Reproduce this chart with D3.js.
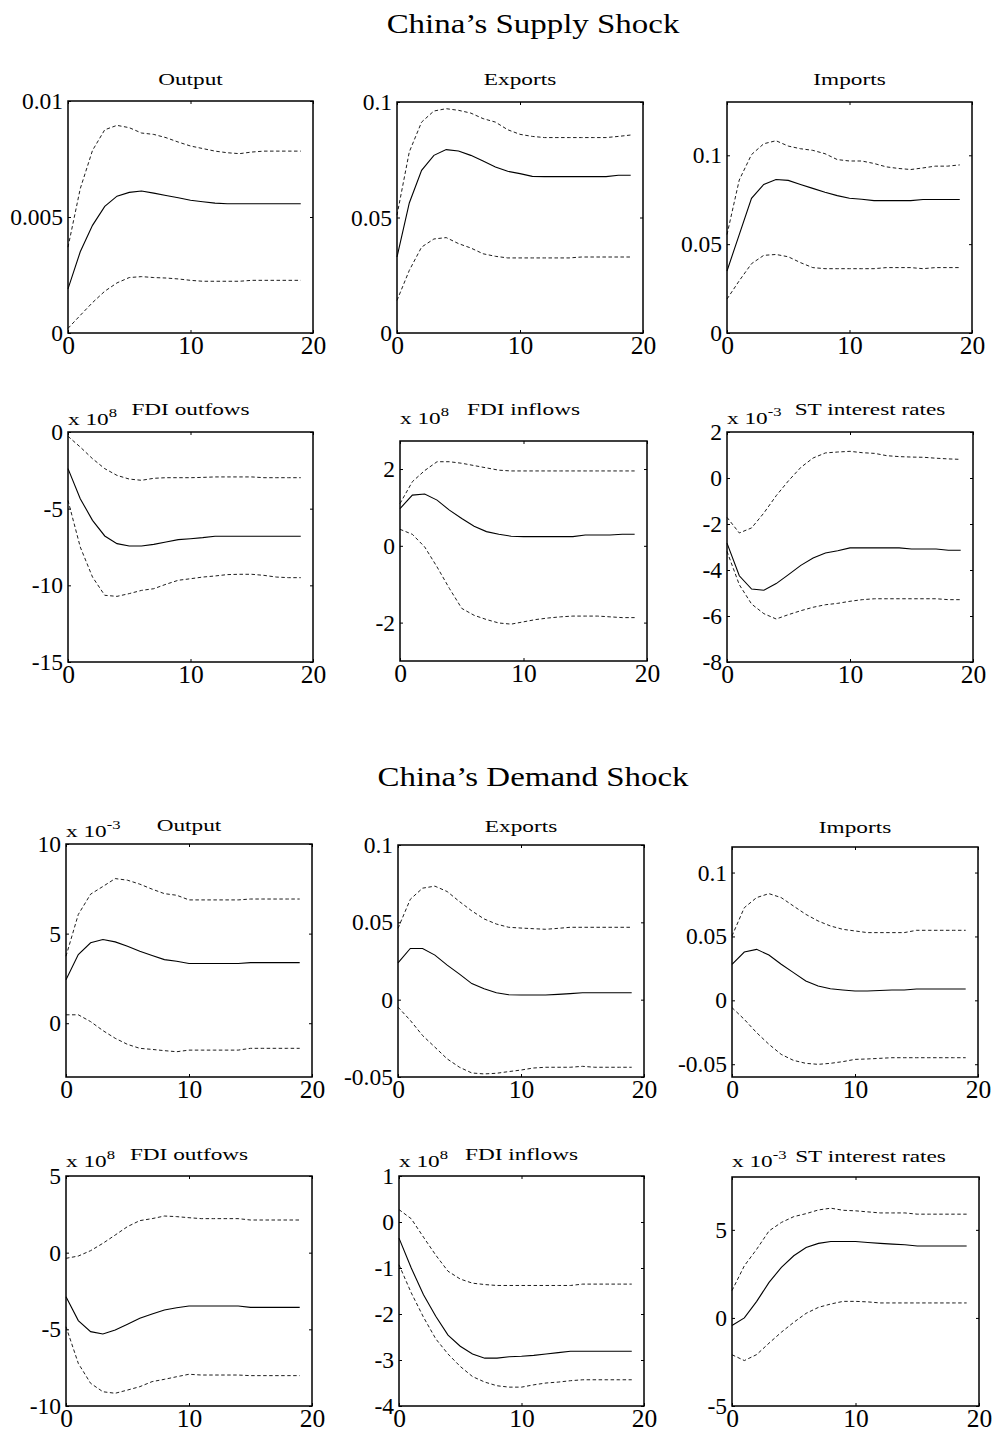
<!DOCTYPE html>
<html lang="en">
<head>
<meta charset="UTF-8">
<title>China's Supply and Demand Shocks</title>
<script src="https://d3js.org/d3.v7.min.js"></script>
<style>
  body { margin: 0; background: #fff; }
  svg { display: block; }
  text { font-family: "Liberation Serif", "Times New Roman", serif; fill: #000; }
  .tick text { font-size: 23.5px; }
  .xax .tick text { font-size: 25.5px; }
</style>
</head>
<body>
<div id="chart"></div>
<script>
// horizons 0..19
var periods = [0,1,2,3,4,5,6,7,8,9,10,11,12,13,14,15,16,17,18,19];

var blockTitles = ["China\u2019s Supply Shock", "China\u2019s Demand Shock"];
var panelTitles = ["Output", "Exports", "Imports", "FDI outfows", "FDI inflows", "ST interest rates"];
var xTicks = [0, 10, 20];

// ---- supply shock ----
var sOutMid = [0.0019,0.0035,0.00464,0.00546,0.0059,0.00606,0.00612,0.00603,0.00593,0.00583,0.00572,0.00566,0.0056,0.00557,0.00557,0.00557,0.00557,0.00557,0.00557,0.00557];
var sOutHi  = [0.0037,0.00622,0.00787,0.00876,0.00895,0.00885,0.00862,0.00856,0.00842,0.00823,0.00806,0.00795,0.00784,0.00777,0.00773,0.0078,0.00784,0.00784,0.00784,0.00784];
var sOutLo  = [0.0002,0.00076,0.00131,0.0018,0.00216,0.00239,0.00243,0.00239,0.00237,0.00233,0.00227,0.00223,0.00223,0.00223,0.00223,0.00227,0.00227,0.00227,0.00227,0.00227];

var sExpMid = [0.0329,0.0563,0.0704,0.0769,0.0794,0.0788,0.0769,0.0745,0.0719,0.070,0.069,0.0678,0.0677,0.0677,0.0677,0.0677,0.0677,0.0677,0.0683,0.0683];
var sExpHi  = [0.051,0.0784,0.0913,0.0961,0.0971,0.0964,0.0952,0.0928,0.0913,0.088,0.086,0.0851,0.0846,0.0846,0.0846,0.0846,0.0846,0.0846,0.0851,0.0857];
var sExpLo  = [0.0141,0.0271,0.0372,0.0407,0.0413,0.0387,0.0368,0.0343,0.0332,0.0325,0.0325,0.0325,0.0325,0.0325,0.0325,0.0329,0.0329,0.0329,0.0329,0.0329];

var sImpMid = [0.0349,0.0554,0.0758,0.0836,0.0864,0.0859,0.0836,0.0814,0.0792,0.0773,0.0758,0.0753,0.0745,0.0745,0.0745,0.0745,0.0751,0.0751,0.0751,0.0751];
var sImpHi  = [0.0554,0.0861,0.1004,0.1065,0.1082,0.1052,0.1037,0.1028,0.1009,0.0976,0.0968,0.0968,0.0954,0.0935,0.0926,0.092,0.0929,0.0939,0.0939,0.0946];
var sImpLo  = [0.0191,0.0294,0.039,0.0437,0.0442,0.0429,0.0396,0.0368,0.0362,0.0362,0.0362,0.0362,0.0362,0.0368,0.0368,0.0368,0.0362,0.0368,0.0368,0.0368];

var sFoMid = [-2.39,-4.35,-5.76,-6.78,-7.28,-7.43,-7.43,-7.33,-7.17,-7.02,-6.96,-6.89,-6.8,-6.8,-6.8,-6.8,-6.8,-6.8,-6.8,-6.8];
var sFoHi  = [-0.28,-0.98,-1.74,-2.39,-2.83,-3.07,-3.15,-3.02,-2.98,-2.98,-2.98,-2.96,-2.93,-2.93,-2.93,-2.93,-2.98,-2.98,-2.98,-2.98];
var sFoLo  = [-4.46,-7.5,-9.46,-10.65,-10.72,-10.54,-10.33,-10.22,-9.93,-9.67,-9.57,-9.46,-9.39,-9.3,-9.28,-9.28,-9.35,-9.46,-9.5,-9.5];

var sFiMid = [0.97,1.32,1.35,1.19,0.93,0.71,0.51,0.37,0.3,0.25,0.24,0.24,0.24,0.24,0.24,0.28,0.28,0.28,0.3,0.3];
var sFiHi  = [1.1,1.67,1.96,2.19,2.19,2.15,2.09,2.03,1.97,1.95,1.95,1.95,1.95,1.95,1.95,1.95,1.95,1.95,1.95,1.95];
var sFiLo  = [0.43,0.3,-0.03,-0.55,-1.11,-1.63,-1.81,-1.92,-2.01,-2.04,-1.98,-1.92,-1.88,-1.85,-1.83,-1.83,-1.83,-1.85,-1.87,-1.87];

var sRtMid = [-2.83,-4.25,-4.83,-4.88,-4.59,-4.2,-3.8,-3.48,-3.26,-3.16,-3.04,-3.04,-3.04,-3.04,-3.04,-3.09,-3.09,-3.09,-3.14,-3.14];
var sRtHi  = [-1.71,-2.39,-2.17,-1.52,-0.77,-0.12,0.46,0.87,1.09,1.13,1.16,1.1,1.07,0.97,0.93,0.91,0.9,0.86,0.83,0.81];
var sRtLo  = [-3.19,-4.64,-5.48,-5.9,-6.13,-5.94,-5.77,-5.62,-5.51,-5.45,-5.36,-5.29,-5.25,-5.25,-5.25,-5.25,-5.25,-5.25,-5.29,-5.29];

// ---- demand shock ----
var dOutMid = [2.43,3.83,4.49,4.67,4.54,4.3,4.02,3.78,3.55,3.46,3.33,3.33,3.33,3.33,3.33,3.38,3.38,3.38,3.38,3.38];
var dOutHi  = [3.74,6.07,7.2,7.63,8.07,7.98,7.76,7.48,7.23,7.14,6.88,6.88,6.88,6.88,6.88,6.93,6.93,6.93,6.93,6.93];
var dOutLo  = [0.47,0.47,0.09,-0.41,-0.84,-1.18,-1.4,-1.46,-1.53,-1.59,-1.5,-1.5,-1.5,-1.5,-1.5,-1.4,-1.4,-1.4,-1.4,-1.4];

var dExpMid = [0.0238,0.0331,0.0331,0.0288,0.0223,0.0165,0.0104,0.0071,0.0045,0.0032,0.003,0.003,0.003,0.0034,0.0039,0.0045,0.0045,0.0045,0.0045,0.0045];
var dExpHi  = [0.0461,0.0649,0.0721,0.0734,0.0699,0.0634,0.0574,0.0522,0.0489,0.0468,0.0463,0.0459,0.0455,0.0461,0.0468,0.0468,0.0468,0.0468,0.0468,0.0468];
var dExpLo  = [-0.0048,-0.0134,-0.0232,-0.0307,-0.0383,-0.0437,-0.0474,-0.048,-0.0476,-0.0465,-0.0455,-0.0442,-0.0437,-0.0437,-0.0437,-0.0431,-0.0437,-0.0437,-0.0437,-0.0437];

var dImpMid = [0.0282,0.0378,0.0399,0.0355,0.0282,0.0217,0.0151,0.0112,0.0091,0.0081,0.0073,0.0073,0.0077,0.0081,0.0081,0.0089,0.0089,0.0089,0.0089,0.0089];
var dImpHi  = [0.0504,0.0725,0.0804,0.0835,0.0804,0.0738,0.0673,0.0621,0.0582,0.0556,0.0543,0.053,0.053,0.053,0.053,0.0548,0.0548,0.0548,0.0548,0.0548];
var dImpLo  = [-0.0057,-0.0149,-0.0253,-0.0344,-0.0423,-0.047,-0.0493,-0.0501,-0.0493,-0.048,-0.0462,-0.0459,-0.0454,-0.0449,-0.0449,-0.0449,-0.0449,-0.0449,-0.0449,-0.0449];

var dFoMid = [-2.87,-4.43,-5.15,-5.3,-5.04,-4.67,-4.28,-4.0,-3.74,-3.59,-3.48,-3.48,-3.48,-3.48,-3.48,-3.57,-3.57,-3.57,-3.57,-3.57];
var dFoHi  = [-0.37,-0.22,0.13,0.61,1.15,1.7,2.09,2.22,2.39,2.35,2.28,2.22,2.22,2.22,2.22,2.13,2.13,2.13,2.13,2.13];
var dFoLo  = [-4.83,-7.22,-8.52,-9.07,-9.17,-8.96,-8.74,-8.41,-8.26,-8.09,-7.93,-7.98,-7.98,-7.98,-7.98,-8.02,-8.02,-8.02,-8.02,-8.02];

var dFiMid = [-0.35,-1.0,-1.58,-2.05,-2.46,-2.7,-2.87,-2.96,-2.96,-2.93,-2.92,-2.9,-2.87,-2.84,-2.81,-2.81,-2.81,-2.81,-2.81,-2.81];
var dFiHi  = [0.27,0.07,-0.33,-0.72,-1.07,-1.24,-1.33,-1.36,-1.38,-1.38,-1.38,-1.38,-1.38,-1.38,-1.38,-1.35,-1.35,-1.35,-1.35,-1.35];
var dFiLo  = [-0.93,-1.54,-2.07,-2.54,-2.87,-3.14,-3.36,-3.48,-3.56,-3.59,-3.59,-3.54,-3.5,-3.48,-3.45,-3.43,-3.43,-3.43,-3.43,-3.43];

var dRtMid = [-0.43,0,0.94,2.02,2.87,3.53,4.0,4.23,4.34,4.34,4.34,4.28,4.23,4.19,4.15,4.08,4.08,4.08,4.08,4.08];
var dRtHi  = [1.55,2.96,3.9,4.94,5.42,5.75,5.92,6.13,6.23,6.11,6.08,6.02,5.96,5.96,5.96,5.89,5.89,5.89,5.89,5.89];
var dRtLo  = [-2.09,-2.42,-2.08,-1.43,-0.81,-0.25,0.26,0.6,0.79,0.94,0.94,0.91,0.85,0.85,0.85,0.85,0.85,0.85,0.85,0.85];

// axis limits, ticks, exponent labels (per panel, reading order)
var yLims = [[0,0.01],[0,0.1],[0,0.13],[-15,0],[-3,2.73],[-8,2],
             [-3,10],[-0.05,0.1],[-0.06,0.12],[-10,5],[-4,1],[-5,8]];
var yTicks = [[0,0.005,0.01],[0,0.05,0.1],[0,0.05,0.1],[-15,-10,-5,0],[-2,0,2],[-8,-6,-4,-2,0,2],
              [0,5,10],[-0.05,0,0.05,0.1],[-0.05,0,0.05,0.1],[-10,-5,0,5],[-4,-3,-2,-1,0,1],[-5,0,5]];
var exponents = [null,null,null,"8","8","-3","-3",null,null,"8","8","-3"];

// layout (pixels): plot boxes [x0, y0, x1, y1]
var boxes = [
  [68,101,313,333],[397,102,643,333],[727,102,972,333],
  [68,432,313,662],[400,441,647,661],[727,432,973,662],
  [66,844,312,1077],[398,845,644,1077],[732,847,978,1077],
  [66,1176,312,1406],[399,1176,644,1406],[732,1177,979,1406]
];
var titleY = [85,85,85,415,415,415,831,832,833,1160,1160,1162];
var titleDx = [0,0,0,0,0,20,0,0,0,0,0,15];
var expoY = [0,0,0,425,424,424,837,0,0,1167,1167,1167];
var blockY = [33, 786];

var series = [
  [sOutMid,sOutLo,sOutHi],[sExpMid,sExpLo,sExpHi],[sImpMid,sImpLo,sImpHi],
  [sFoMid,sFoLo,sFoHi],[sFiMid,sFiLo,sFiHi],[sRtMid,sRtLo,sRtHi],
  [dOutMid,dOutLo,dOutHi],[dExpMid,dExpLo,dExpHi],[dImpMid,dImpLo,dImpHi],
  [dFoMid,dFoLo,dFoHi],[dFiMid,dFiLo,dFiHi],[dRtMid,dRtLo,dRtHi]
];

var svg = d3.select("#chart").append("svg")
    .attr("width", 992)
    .attr("height", 1436);

svg.selectAll("text.block")
    .data(blockTitles)
    .enter()
    .append("text")
    .attr("class", "block")
    .attr("text-anchor", "middle")
    .attr("font-size", 27)
    .attr("transform", function(d, i) { return "translate(533," + blockY[i] + ") scale(1.22,1)"; })
    .text(function(d) { return d; });

series.forEach(function(s, i) {
    var b = boxes[i];
    var x = d3.scaleLinear().domain([0, 20]).range([b[0], b[2]]);
    var y = d3.scaleLinear().domain(yLims[i]).range([b[3], b[1]]);
    var g = svg.append("g");
    var fmt = function(d) { return String(d); };

    // ticks inside the box on all four sides
    g.append("g")
        .attr("transform", "translate(" + b[0] + ",0)")
        .call(d3.axisLeft(y).tickValues(yTicks[i]).tickSize(-3).tickPadding(5).tickFormat(fmt));
    g.append("g")
        .attr("transform", "translate(" + b[2] + ",0)")
        .call(d3.axisRight(y).tickValues(yTicks[i]).tickSize(-3).tickFormat(""));
    g.append("g")
        .attr("class", "xax")
        .attr("transform", "translate(0," + b[3] + ")")
        .call(d3.axisBottom(x).tickValues(xTicks).tickSize(-3).tickPadding(3).tickFormat(fmt));
    g.append("g")
        .attr("transform", "translate(0," + b[1] + ")")
        .call(d3.axisTop(x).tickValues(xTicks).tickSize(-3).tickFormat(""));
    g.selectAll(".domain").remove();
    g.selectAll(".tick line").attr("stroke-width", 1);

    var line = d3.line()
        .x(function(d, k) { return x(periods[k]); })
        .y(function(d) { return y(d); });

    g.append("path")
        .attr("d", line(s[0]))
        .attr("fill", "none")
        .attr("stroke", "#000")
        .attr("stroke-width", 1.1);
    [s[1], s[2]].forEach(function(band) {
        g.append("path")
            .attr("d", line(band))
            .attr("fill", "none")
            .attr("stroke", "#111")
            .attr("stroke-width", 0.95)
            .attr("stroke-dasharray", "3.5,2.5");
    });

    g.append("rect")
        .attr("x", b[0])
        .attr("y", b[1])
        .attr("width", b[2] - b[0])
        .attr("height", b[3] - b[1])
        .attr("fill", "none")
        .attr("stroke", "#000")
        .attr("stroke-width", 1.5);

    var cx = (b[0] + b[2]) / 2 + titleDx[i];
    g.append("text")
        .attr("text-anchor", "middle")
        .attr("font-size", 17.5)
        .attr("transform", "translate(" + cx + "," + titleY[i] + ") scale(1.33,1)")
        .text(panelTitles[i % 6]);

    if (exponents[i]) {
        var t = g.append("text")
            .attr("font-size", 17.5)
            .attr("transform", "translate(" + b[0] + "," + expoY[i] + ") scale(1.33,1)");
        t.append("tspan").text("x 10");
        t.append("tspan").attr("font-size", 12.5).attr("dy", -8).text(exponents[i]);
    }
});
</script>
</body>
</html>
